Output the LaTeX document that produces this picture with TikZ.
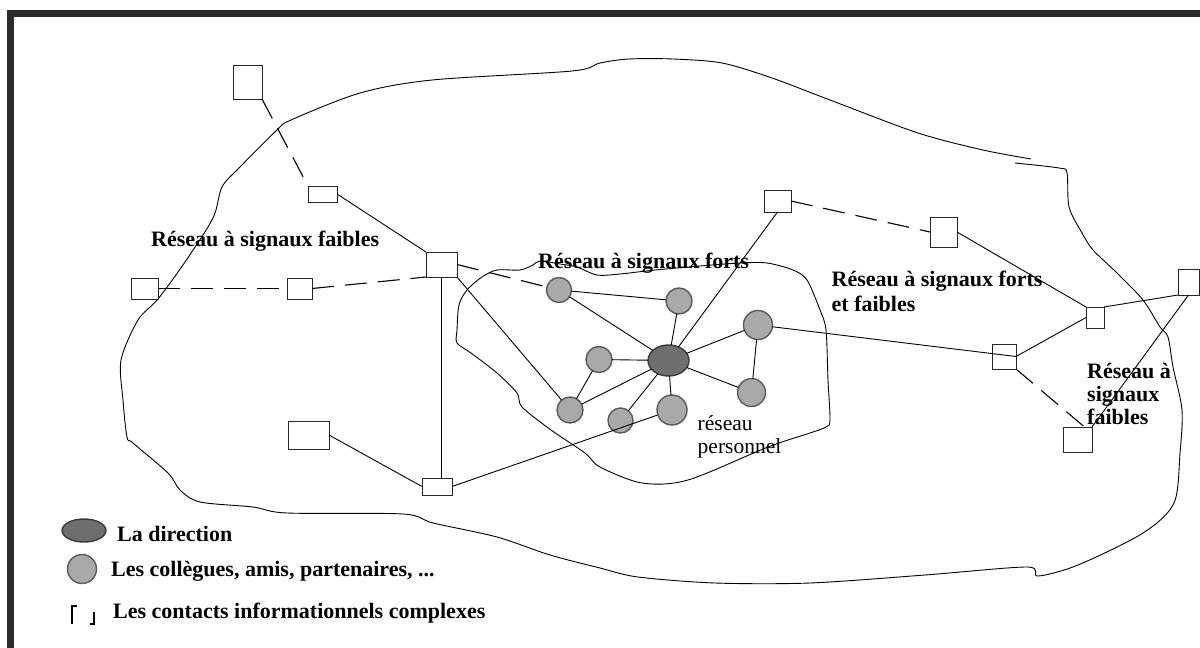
\documentclass[tikz,border=0pt]{standalone}
\usepackage{fontspec}
\setmainfont{Liberation Serif}
\usetikzlibrary{shapes.geometric}

\definecolor{framecol}{HTML}{2B2B2B}
\definecolor{peerfill}{HTML}{A9A9A9}
\definecolor{peerline}{HTML}{5A5A5A}
\definecolor{headfill}{HTML}{6E6E6E}
\definecolor{headline}{HTML}{3A3A3A}

\begin{document}
\begin{tikzpicture}[x=1pt,y=-1pt,
  contact/.style={rectangle, draw=black!85, line width=1pt, fill=white,
    inner sep=0pt, outer sep=0pt},
  peer/.style={circle, draw=peerline, line width=1.4pt, fill=peerfill,
    inner sep=0pt, outer sep=0pt, minimum size=#1},
  peer/.default=26pt,
  head/.style={ellipse, draw=headline, line width=1.4pt, fill=headfill,
    inner sep=0pt, outer sep=0pt},
  link/.style={draw=black, line width=0.9pt},
  weaklink/.style={draw=black, line width=1.1pt, dash pattern=on 22pt off 11pt},
  blob/.style={draw=black, line width=0.9pt},
  lbl/.style={font=\fontsize{22}{25}\selectfont\bfseries, anchor=base west,
    inner sep=0pt},
  plain/.style={font=\fontsize{21.5}{25}\selectfont, anchor=base west,
    inner sep=0pt}
]
\useasboundingbox (0,0) rectangle (1200,648);

% page frame (top and left rules)
\fill[framecol] (7,10) rectangle (1200,17);
\fill[framecol] (7,10) rectangle (14,648);

% outer region
\draw[blob] plot[smooth, tension=0.5] coordinates {
  (1031,159) (983,150) (918,133) (830,100) (772,78) (722,63) (673,59)
  (629,59) (600,63) (572,71) (432,80) (360,93) (291,120) (277,130)
  (240,167) (222,187) (213,218) (185,262) (158,299) (138,320) (121,360)
  (123,400) (127,437) (133,443) (168,473) (180,490) (200,502) (253,507)
  (287,513) (403,514) (433,523) (497,537) (550,555) (600,568) (638,577)
  (715,583) (810,583) (925,575) (1027,567) (1038,576) (1078,565)
  (1143,533) (1174,503) (1180,453) (1182,410) (1173,367) (1168,337)
  (1160,327) (1143,300) (1117,273) (1093,250) (1082,233) (1069,207)
  (1067,173) (1059,168) (1015,163)};

% inner region (strong ties)
\draw[blob] plot[smooth cycle, tension=0.5] coordinates {
  (457,330) (459,305) (467,290) (482,277) (497,270) (520,270) (533,265)
  (540,261) (560,264) (577,267) (597,275) (620,274) (655,270) (700,266)
  (740,263) (767,263) (793,270) (807,280) (820,310) (826,330) (828,380)
  (830,420) (826,427) (810,433) (768,447) (688,480) (642,483) (600,467)
  (585,453) (551,430) (522,407) (517,393) (497,373) (471,353) (457,343)};

% contacts
\node[contact, minimum width=29pt, minimum height=34pt] (A) at (247.5,82) {};
\node[contact, minimum width=29pt, minimum height=16pt] (B) at (322.5,194) {};
\node[contact, minimum width=31pt, minimum height=25pt] (C) at (441.5,264.5) {};
\node[contact, minimum width=27pt, minimum height=21pt] (D) at (144.5,288.5) {};
\node[contact, minimum width=25pt, minimum height=21pt] (E) at (299.5,288.5) {};
\node[contact, minimum width=41pt, minimum height=28pt] (F) at (308.5,435) {};
\node[contact, minimum width=30pt, minimum height=17pt] (G) at (437,486.5) {};
\node[contact, minimum width=27pt, minimum height=22pt] (I) at (777.5,201) {};
\node[contact, minimum width=27pt, minimum height=30pt] (J) at (943.5,232) {};
\node[contact, minimum width=18pt, minimum height=21pt] (K) at (1095,317.5) {};
\node[contact, minimum width=24pt, minimum height=25pt] (L) at (1004,356.5) {};
\node[contact, minimum width=21pt, minimum height=26pt] (H) at (1188.5,282) {};
\node[contact, minimum width=29pt, minimum height=25pt] (M) at (1077.5,439.5) {};

% personal network
\node[peer=25pt] (c1) at (559,290) {};
\node[peer=26pt] (c2) at (679,301) {};
\node[peer=29pt] (c3) at (758,325) {};
\node[peer=26pt] (c4) at (599,359.5) {};
\node[head, minimum width=41pt, minimum height=31pt] (ctr) at (668.5,360.5) {};
\node[peer=28pt] (c5) at (751.5,392.5) {};
\node[peer=26pt] (c6) at (570,410) {};
\node[peer=25pt] (c7) at (620.5,420.5) {};
\node[peer=30pt] (c8) at (672,410) {};

% weak ties
\draw[weaklink] (A.south east) -- (B.north west);
\draw[weaklink] (D.east) -- (E.west);
\draw[weaklink] (E.east) -- (C.south west);
\draw[weaklink] (C.east) -- (c1);
\draw[weaklink] (I.east) -- (J.west);
\draw[weaklink] (L.south east) -- ([xshift=7pt]M.north);

% strong ties
\draw[link] (B.east) -- (C.north west);
\draw[link] (C.south) -- (C.south |- G.north);
\draw[link] (F.east) -- (G.west);
\draw[link] (G.east) -- (c8);
\draw[link] (C.south east) -- (c6);
\draw[link] (c1) -- (c2);
\draw[link] (c1) -- (ctr);
\draw[link] (c2) -- (ctr);
\draw[link] (ctr) -- (c3);
\draw[link] (c3) -- (c5);
\draw[link] (ctr) -- (c5);
\draw[link] (ctr) -- (c4);
\draw[link] (c4) -- (c6);
\draw[link] (ctr) -- (c6);
\draw[link] (ctr) -- (c7);
\draw[link] (ctr) -- (c8);
\draw[link] (ctr) -- (I.south);
\draw[link] (c3) -- (L.east);
\draw[link] (J.east) -- (K.north west);
\draw[link] (K.west) -- (L.east);
\draw[link] (K.north east) -- (H.south west);
\draw[link] (H.south) -- (M.north east);

% region labels
\node[lbl] (t1) at (151,246) {Réseau à signaux faibles};
\node[lbl] (t2) at (538,268) {Réseau à signaux forts};
\node[lbl] (t3a) at (831.5,286) {Réseau à signaux forts};
\node[lbl] (t3b) at (831.5,311) {et faibles};
\node[lbl] (t4a) at (1087,378) {Réseau à};
\node[lbl] (t4b) at (1087,401) {signaux};
\node[lbl] (t4c) at (1087,424) {faibles};
\node[plain] (t5a) at (697.5,430) {réseau};
\node[plain] (t5b) at (697.5,453) {personnel};

% legend
\node[head, minimum width=44pt, minimum height=23pt] (k1) at (84,530.5) {};
\node[peer=29pt] (k2) at (82,569) {};
\draw[line width=1.4pt] (77,606) -- (72,606) -- (72,624);
\draw[line width=1.4pt] (94,612) -- (94,624) -- (90,624);
\node[lbl] (l1) at (117,541) {La direction};
\node[lbl] (l2) at (111,576) {Les collègues, amis, partenaires, ...};
\node[lbl] (l3) at (113,618) {Les contacts informationnels complexes};
\end{tikzpicture}
\end{document}
